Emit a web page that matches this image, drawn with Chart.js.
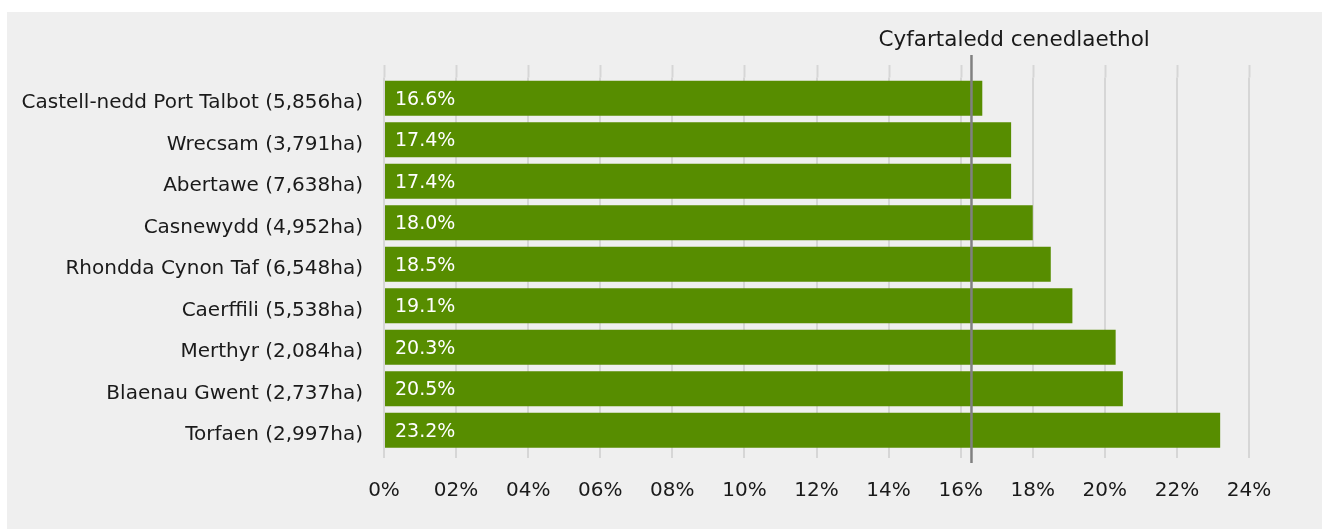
<!DOCTYPE html>
<html>
<head>
<meta charset="utf-8">
<script src="https://cdn.jsdelivr.net/npm/chart.js@4.4.1/dist/chart.umd.min.js"></script>
<style>
  html, body { margin: 0; padding: 0; background: #ffffff; }
  #panel {
    position: absolute; left: 7px; top: 12px;
    width: 1315px; height: 517px;
    background: #efefef;
  }
  #chart { display: block; }
</style>
</head>
<body>
<div id="panel"><canvas id="chart" width="1315" height="517"></canvas></div>
<script>
/* ─── data ─── */
const areas = [
  'Castell-nedd Port Talbot (5,856ha)',
  'Wrecsam (3,791ha)',
  'Abertawe (7,638ha)',
  'Casnewydd (4,952ha)',
  'Rhondda Cynon Taf (6,548ha)',
  'Caerffili (5,538ha)',
  'Merthyr (2,084ha)',
  'Blaenau Gwent (2,737ha)',
  'Torfaen (2,997ha)',
];
const canopyPct   = [16.6, 17.4, 17.4, 18.0, 18.5, 19.1, 20.3, 20.5, 23.2];
const xTickLabels = ['0%', '02%', '04%', '06%', '08%', '10%', '12%', '14%', '16%', '18%', '20%', '22%', '24%'];
const nationalAvg = 16.3;
const avgLabel    = 'Cyfartaledd cenedlaethol';

const FONT = '"DejaVu Sans", sans-serif';
const TEXT = '#1a1a1a';
const GRID = '#d6d6d6';

/* grid lines poke a little above the plot area */
const gridExtend = {
  id: 'gridExtend',
  beforeDatasetsDraw(chart) {
    const { ctx, chartArea: a, scales: { x } } = chart;
    ctx.save();
    ctx.strokeStyle = GRID;
    ctx.lineWidth = 2;
    x.ticks.forEach(t => {
      const px = Math.round(x.getPixelForValue(t.value)) + 0.5;
      ctx.beginPath();
      ctx.moveTo(px, a.top - 12.5);
      ctx.lineTo(px, a.top);
      ctx.stroke();
    });
    ctx.restore();
  },
};

/* value labels inside the bars + national average marker */
const overlays = {
  id: 'overlays',
  afterDatasetsDraw(chart) {
    const { ctx, chartArea: a, scales: { x } } = chart;
    const meta = chart.getDatasetMeta(0);
    ctx.save();
    ctx.font = `19px ${FONT}`;
    ctx.fillStyle = '#ffffff';
    ctx.textAlign = 'left';
    ctx.textBaseline = 'middle';
    meta.data.forEach((bar, i) => {
      ctx.fillText(canopyPct[i].toFixed(1) + '%', bar.base + 10, bar.y + 1.5);
    });

    const ax = x.getPixelForValue(nationalAvg);
    ctx.strokeStyle = '#808080';
    ctx.lineWidth = 2.5;
    ctx.beginPath();
    ctx.moveTo(ax, a.top - 22.5);
    ctx.lineTo(ax, a.bottom + 12);
    ctx.stroke();

    ctx.fillStyle = TEXT;
    ctx.font = `21.5px ${FONT}`;
    ctx.textBaseline = 'alphabetic';
    ctx.fillText(avgLabel, ax - 93, a.top - 31.5);
    ctx.restore();
  },
};

new Chart(document.getElementById('chart').getContext('2d'), {
  type: 'bar',
  data: {
    labels: areas,
    datasets: [{
      data: canopyPct,
      backgroundColor: '#578d00',
      borderWidth: 0,
      barPercentage: 0.84,
      categoryPercentage: 1,
    }],
  },
  options: {
    indexAxis: 'y',
    responsive: false,
    animation: false,
    layout: { padding: { top: 65.5, right: 73, left: 0, bottom: 0 } },
    plugins: { legend: { display: false }, tooltip: { enabled: false } },
    scales: {
      x: {
        min: 0, max: 24,
        border: { display: false },
        grid: { color: GRID, lineWidth: 2, tickLength: 7, tickColor: GRID },
        ticks: {
          stepSize: 2,
          padding: 21,
          color: TEXT,
          font: { family: FONT, size: 20 },
          callback: (v, i) => xTickLabels[i],
        },
        afterFit: s => { s.height = 78; },
      },
      y: {
        border: { display: false },
        grid: { display: false, drawTicks: false },
        ticks: {
          padding: 21,
          labelOffset: 5,
          color: TEXT,
          font: { family: FONT, size: 20 },
        },
        afterFit: s => { s.width = 377; },
      },
    },
  },
  plugins: [gridExtend, overlays],
});
</script>
</body>
</html>
